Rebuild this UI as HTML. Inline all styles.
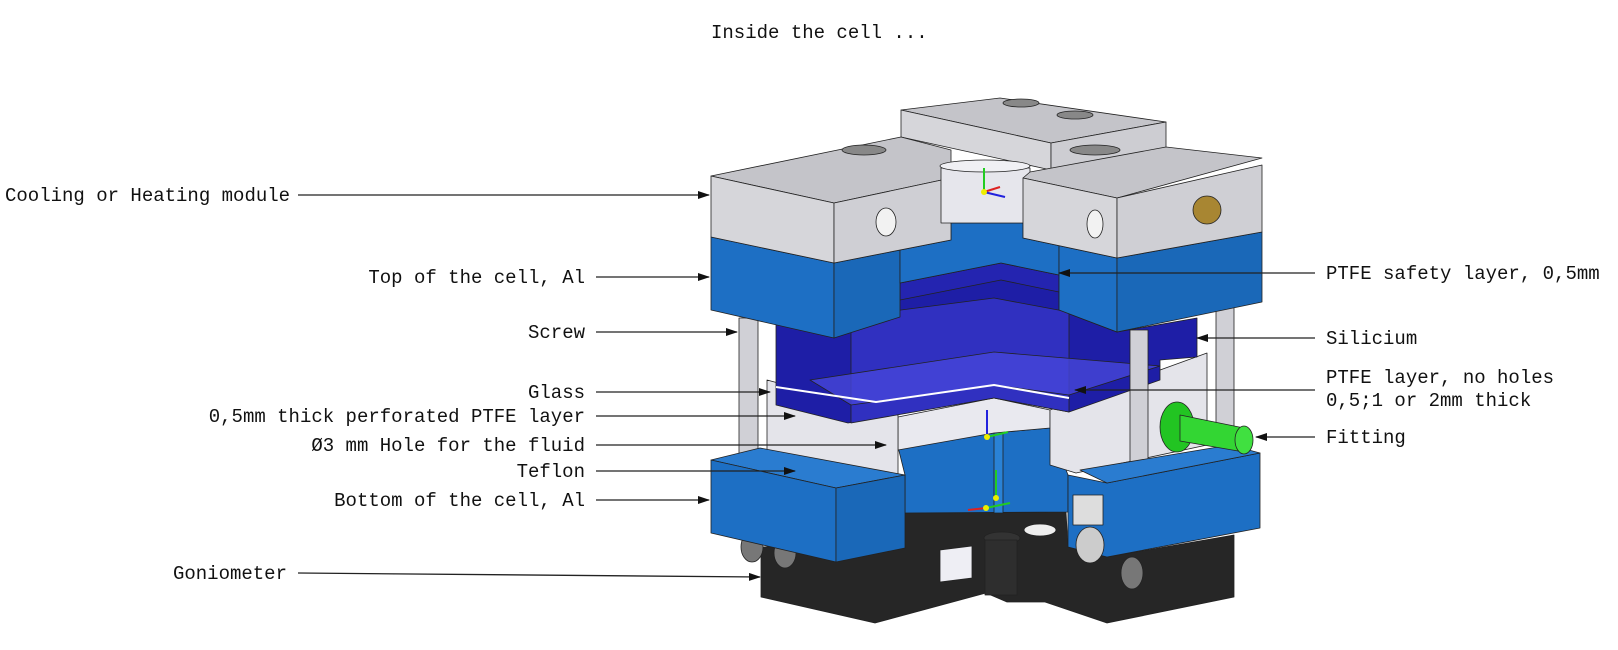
<!DOCTYPE html>
<html><head><meta charset="utf-8"><style>
html,body{margin:0;padding:0;background:#fff;}
svg{display:block;}
text{font-family:"Liberation Mono",monospace;font-size:19px;fill:#111;}
</style></head><body>
<svg width="1618" height="650" viewBox="0 0 1618 650" xmlns="http://www.w3.org/2000/svg">
<defs>
<marker id="ah" markerWidth="12" markerHeight="8" refX="11" refY="4" orient="auto" markerUnits="userSpaceOnUse">
<path d="M0,0 L12,4 L0,8 z" fill="#111"/></marker>
</defs>
<g stroke="#222" stroke-width="0.8" stroke-linejoin="round">
<polygon points="761,547 905,542 905,513 1066,512 1068,547 1107,557 1234,535 1234,597 1107,623 1045,602 1007,602 986,593 875,623 761,597" fill="#262626"/>
<ellipse cx="752" cy="547" rx="11" ry="15" fill="#777"/>
<ellipse cx="785" cy="553" rx="11" ry="15" fill="#777"/>
<ellipse cx="1132" cy="573" rx="11" ry="16" fill="#777"/>
<polygon points="940,550 972,546 972,578 940,582" fill="#eeeef4"/>
<ellipse cx="1040" cy="530" rx="16" ry="6" fill="#eee"/>
<ellipse cx="1002" cy="538" rx="18" ry="6" fill="#333"/>
<rect x="985" y="540" width="32" height="55" fill="#2e2e2e"/>
<polygon points="898,447 994,433 1050,428 1068,475 1068,512 905,513 905,475" fill="#1d6fc4"/>
<polygon points="994,433 1003,432 1003,513 994,513" fill="#2a82d6"/>
<polygon points="898,417 994,398 1050,410 1050,428 994,433 898,450" fill="#e9e9ef"/>
<polygon points="767,380 898,415 898,477 851,485 767,462" fill="#e4e4ea"/>
<polygon points="1050,410 1207,353 1207,445 1076,473 1050,465" fill="#e4e4ea"/>
<polygon points="776,318 900,296 1001,263 1059,275 1059,310 1117,332 1197,318 1197,357 1160,360 1160,380 1069,412 994,398 848,423 776,405" fill="#1e1ea6"/>
<polygon points="851,323 901,310 994,298 1069,312 1069,412 994,398 851,423" fill="#3434c4" fill-opacity="0.85"/>
<polygon points="810,380 994,352 1160,366 1069,395 994,385 851,405" fill="#4646d8" fill-opacity="0.8"/>
<polygon points="900,283 1001,263 1059,275 1059,292 1001,280 900,300" fill="#2424b0"/>
<polyline points="776,387 876,402 994,385 1069,398" fill="none" stroke="#fff" stroke-width="2"/>
<rect x="739" y="318" width="19" height="140" fill="#d0d0d6"/>
<rect x="1130" y="330" width="18" height="143" fill="#d0d0d6"/>
<rect x="1216" y="303" width="18" height="150" fill="#d0d0d6"/>
<polygon points="711,460 760,448 905,475 836,488" fill="#2a7cd0"/>
<polygon points="711,460 836,488 836,562 711,533" fill="#1d6fc4"/>
<polygon points="836,488 905,475 905,548 836,562" fill="#1a68b8"/>
<polygon points="1068,475 1107,483 1260,453 1260,528 1107,557 1068,547" fill="#1d6fc4"/>
<polygon points="1107,483 1260,453 1230,445 1080,470" fill="#2a7cd0"/>
<rect x="1073" y="495" width="30" height="30" fill="#ddd"/>
<ellipse cx="1090" cy="545" rx="14" ry="18" fill="#ccc"/>
<ellipse cx="1177" cy="427" rx="17" ry="25" fill="#22c422"/>
<polygon points="1180,415 1244,428 1244,452 1180,441" fill="#33d633"/>
<ellipse cx="1244" cy="440" rx="9" ry="14" fill="#40e040"/>
<polygon points="711,237 834,263 834,338 711,310" fill="#1d6fc4"/>
<polygon points="834,263 900,250 900,317 834,338" fill="#1a68b8"/>
<polygon points="900,250 951,240 951,223 1023,223 1023,238 1059,240 1059,275 1001,263 900,283" fill="#1d6fc4"/>
<polygon points="1023,238 1117,258 1117,332 1059,310 1059,240" fill="#1d6fc4"/>
<polygon points="1117,258 1262,232 1262,302 1117,332" fill="#1a68b8"/>
<polygon points="901,110 1000,98 1166,122 1051,143" fill="#c4c4c9"/>
<polygon points="901,110 1051,143 1051,170 901,137" fill="#d6d6da"/>
<polygon points="1051,143 1166,122 1166,148 1051,170" fill="#cdcdd2"/>
<ellipse cx="1021" cy="103" rx="18" ry="4" fill="#888"/>
<ellipse cx="1075" cy="115" rx="18" ry="4" fill="#888"/>
<polygon points="711,176 901,137 951,150 951,178 834,203" fill="#c4c4c9"/>
<polygon points="711,176 834,203 834,263 711,237" fill="#d6d6da"/>
<polygon points="834,203 951,178 951,240 834,263" fill="#cfcfd4"/>
<ellipse cx="886" cy="222" rx="10" ry="14" fill="#f2f2f2"/>
<ellipse cx="864" cy="150" rx="22" ry="5" fill="#888"/>
<polygon points="941,168 1030,168 1030,223 941,223" fill="#e6e6ec"/>
<ellipse cx="985" cy="166" rx="45" ry="6" fill="#f0f0f4"/>
<polygon points="1030,172 1166,147 1262,158 1117,198 1023,178" fill="#c4c4c9"/>
<polygon points="1023,178 1117,198 1117,258 1023,238" fill="#d6d6da"/>
<polygon points="1117,198 1262,165 1262,232 1117,258" fill="#cfcfd4"/>
<ellipse cx="1095" cy="150" rx="25" ry="5" fill="#888"/>
<ellipse cx="1095" cy="224" rx="8" ry="14" fill="#f2f2f2"/>
<circle cx="1207" cy="210" r="14" fill="#a88632"/>
</g>
<g stroke-width="2">
<line x1="984" y1="192" x2="984" y2="168" stroke="#2c2"/>
<line x1="984" y1="192" x2="1000" y2="187" stroke="#d22"/>
<line x1="984" y1="192" x2="1005" y2="197" stroke="#22d"/>
<line x1="987" y1="437" x2="987" y2="410" stroke="#22d"/>
<line x1="987" y1="437" x2="1008" y2="432" stroke="#2c2"/>
<line x1="996" y1="498" x2="996" y2="470" stroke="#2c2"/>
<line x1="986" y1="508" x2="1010" y2="503" stroke="#2c2"/>
<line x1="986" y1="508" x2="968" y2="510" stroke="#d22"/>
</g>
<circle cx="987" cy="437" r="3" fill="#ee0"/><circle cx="996" cy="498" r="3" fill="#ee0"/><circle cx="986" cy="508" r="3" fill="#ee0"/><circle cx="984" cy="192" r="3" fill="#ee0"/>
<text x="711" y="38">Inside the cell ...</text>
<text x="5" y="201">Cooling or Heating module</text>
<text x="585" y="283" text-anchor="end">Top of the cell, Al</text>
<text x="585" y="338" text-anchor="end">Screw</text>
<text x="585" y="398" text-anchor="end">Glass</text>
<text x="585" y="422" text-anchor="end">0,5mm thick perforated PTFE layer</text>
<text x="585" y="451" text-anchor="end">Ø3 mm Hole for the fluid</text>
<text x="585" y="477" text-anchor="end">Teflon</text>
<text x="585" y="506" text-anchor="end">Bottom of the cell, Al</text>
<text x="287" y="579" text-anchor="end">Goniometer</text>
<text x="1326" y="279">PTFE safety layer, 0,5mm</text>
<text x="1326" y="344">Silicium</text>
<text x="1326" y="383">PTFE layer, no holes</text>
<text x="1326" y="406">0,5;1 or 2mm thick</text>
<text x="1326" y="443">Fitting</text>
<g stroke="#222" stroke-width="1.3" marker-end="url(#ah)">
<line x1="298" y1="195" x2="709" y2="195"/>
<line x1="596" y1="277" x2="709" y2="277"/>
<line x1="596" y1="332" x2="737" y2="332"/>
<line x1="596" y1="392" x2="770" y2="392"/>
<line x1="596" y1="416" x2="795" y2="416"/>
<line x1="596" y1="445" x2="886" y2="445"/>
<line x1="596" y1="471" x2="795" y2="471"/>
<line x1="596" y1="500" x2="709" y2="500"/>
<line x1="298" y1="573" x2="760" y2="577"/>
<line x1="1315" y1="273" x2="1059" y2="273"/>
<line x1="1315" y1="338" x2="1197" y2="338"/>
<line x1="1315" y1="390" x2="1075" y2="390"/>
<line x1="1315" y1="437" x2="1256" y2="437"/>
</g>
</svg>
</body></html>
